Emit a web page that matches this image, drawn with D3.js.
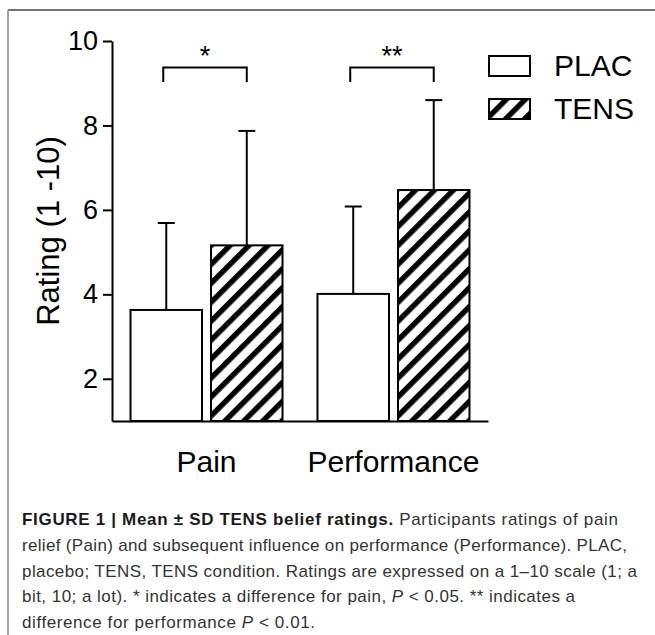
<!DOCTYPE html>
<html>
<head>
<meta charset="utf-8">
<script src="https://cdn.jsdelivr.net/npm/d3@7"></script>
<style>
  html, body { margin: 0; padding: 0; background: #fff; }
  svg { display: block; font-family: "Liberation Sans", Arial, sans-serif; }
</style>
</head>
<body>
<svg id="chart" width="655" height="635"></svg>
<script>
// Data
const groups = ["Pain", "Performance"];
const conditions = ["PLAC", "TENS"];
const placMean = [3.63, 4.01];
const placSD = [2.06, 2.07];
const tensMean = [5.16, 6.47];
const tensSD = [2.71, 2.13];
const yTicks = [2, 4, 6, 8, 10];
const sigLabels = ["*", "**"];

const svg = d3.select("#chart");

// Frame
svg.append("line").attr("x1", 8).attr("x2", 655).attr("y1", 10).attr("y2", 10)
    .attr("stroke", "#444").attr("stroke-width", 1.5);
svg.append("line").attr("x1", 8).attr("x2", 8).attr("y1", 10).attr("y2", 635)
    .attr("stroke", "#888").attr("stroke-width", 1.5);

// Hatch pattern
const defs = svg.append("defs");
const pat = defs.append("pattern")
    .attr("id", "hatch")
    .attr("patternUnits", "userSpaceOnUse")
    .attr("width", 13.4)
    .attr("height", 13.4)
    .attr("patternTransform", "rotate(45)");
pat.append("rect").attr("width", 13.4).attr("height", 13.4).attr("fill", "#fff");
pat.append("rect").attr("width", 5.4).attr("height", 13.4).attr("fill", "#000");

// Scales
const y = d3.scaleLinear().domain([1, 10]).range([421, 41]);
const x0 = d3.scaleBand().domain(groups).range([112, 488])
    .paddingInner(0.187).paddingOuter(0.099);
const x1 = d3.scaleBand().domain(conditions).range([0, x0.bandwidth()])
    .paddingInner(0.112).paddingOuter(0);

const rows = groups.map((g, i) => ({
    group: g,
    values: [
        { cond: "PLAC", mean: placMean[i], sd: placSD[i] },
        { cond: "TENS", mean: tensMean[i], sd: tensSD[i] }
    ]
}));

const fills = { PLAC: "#fff", TENS: "url(#hatch)" };

// Bars
const gGroups = svg.append("g").selectAll("g")
    .data(rows).join("g")
    .attr("transform", d => `translate(${x0(d.group)},0)`);

gGroups.selectAll("line.err")
    .data(d => d.values).join("line")
    .attr("class", "err")
    .attr("x1", d => x1(d.cond) + x1.bandwidth() / 2)
    .attr("x2", d => x1(d.cond) + x1.bandwidth() / 2)
    .attr("y1", d => y(d.mean))
    .attr("y2", d => y(d.mean + d.sd))
    .attr("stroke", "#000").attr("stroke-width", 2);

gGroups.selectAll("line.cap")
    .data(d => d.values).join("line")
    .attr("class", "cap")
    .attr("x1", d => x1(d.cond) + x1.bandwidth() / 2 - 8.5)
    .attr("x2", d => x1(d.cond) + x1.bandwidth() / 2 + 8.5)
    .attr("y1", d => y(d.mean + d.sd))
    .attr("y2", d => y(d.mean + d.sd))
    .attr("stroke", "#000").attr("stroke-width", 2);

gGroups.selectAll("rect")
    .data(d => d.values).join("rect")
    .attr("x", d => x1(d.cond))
    .attr("y", d => y(d.mean))
    .attr("width", x1.bandwidth())
    .attr("height", d => y(1) - y(d.mean))
    .attr("fill", d => fills[d.cond])
    .attr("stroke", "#000").attr("stroke-width", 2);

// Y axis
const yAxis = svg.append("g")
    .attr("transform", "translate(112,0)")
    .call(d3.axisLeft(y).tickValues(yTicks).tickSize(9).tickSizeOuter(0).tickPadding(5));
yAxis.selectAll("path, line").attr("stroke", "#000").attr("stroke-width", 2);
yAxis.selectAll("text")
    .style("font-size", "27px")
    .style("font-family", "Liberation Sans, Arial, sans-serif")
    .attr("fill", "#000");

// X axis
const xAxis = svg.append("g")
    .attr("transform", `translate(0,${y(1)})`)
    .call(d3.axisBottom(x0).tickSize(0).tickSizeOuter(0).tickPadding(30));
xAxis.select("path").attr("stroke", "#000").attr("stroke-width", 2);
xAxis.selectAll("text")
    .style("font-size", "30px")
    .style("font-family", "Liberation Sans, Arial, sans-serif")
    .attr("fill", "#000");

// Y label
svg.append("text")
    .attr("transform", `translate(59,${(y(1) + y(10)) / 2}) rotate(-90)`)
    .attr("text-anchor", "middle")
    .style("font-size", "31px")
    .text("Rating (1 -10)");

// Significance brackets
rows.forEach((r, i) => {
    const xa = x0(r.group) + x1("PLAC") + x1.bandwidth() / 2 - 3;
    const xb = x0(r.group) + x1("TENS") + x1.bandwidth() / 2;
    svg.append("path")
        .attr("d", `M${xa},82 V67.5 H${xb} V82`)
        .attr("fill", "none").attr("stroke", "#000").attr("stroke-width", 2);
    svg.append("text")
        .attr("x", (xa + xb) / 2)
        .attr("y", 65)
        .attr("text-anchor", "middle")
        .style("font-size", "27px")
        .text(sigLabels[i]);
});

// Legend
const legend = svg.append("g").attr("transform", "translate(489,56)");
conditions.forEach((c, i) => {
    legend.append("rect")
        .attr("x", 0).attr("y", i * 43)
        .attr("width", 41).attr("height", 20)
        .attr("fill", fills[c]).attr("stroke", "#000").attr("stroke-width", 2);
    legend.append("text")
        .attr("x", 65).attr("y", i * 43 + 20)
        .style("font-size", "30px")
        .text(c);
});

// Caption
const caption = [
    { w: 596, parts: [["FIGURE 1 | Mean \u00b1 SD TENS belief ratings.", "b"], [" Participants ratings of pain", ""]] },
    { w: 605, parts: [["relief (Pain) and subsequent influence on performance (Performance). PLAC,", ""]] },
    { w: 615, parts: [["placebo; TENS, TENS condition. Ratings are expressed on a 1\u201310 scale (1; a", ""]] },
    { w: 553, parts: [["bit, 10; a lot). * indicates a difference for pain, ", ""], ["P", "i"], [" < 0.05. ** indicates a", ""]] },
    { w: 293, parts: [["difference for performance ", ""], ["P", "i"], [" < 0.01.", ""]] }
];
const capBase = [525, 551, 577, 602, 628];
caption.forEach((line, i) => {
    const t = svg.append("text")
        .attr("x", 22).attr("y", capBase[i])
        .attr("textLength", line.w)
        .attr("lengthAdjust", "spacing")
        .style("font-size", "17px")
        .style("white-space", "pre")
        .attr("fill", "#333");
    line.parts.forEach(p => {
        const s = t.append("tspan").text(p[0]);
        if (p[1] === "b") s.style("font-weight", "bold").attr("fill", "#1a1a1a");
        if (p[1] === "i") s.style("font-style", "italic");
    });
});
</script>
</body>
</html>
